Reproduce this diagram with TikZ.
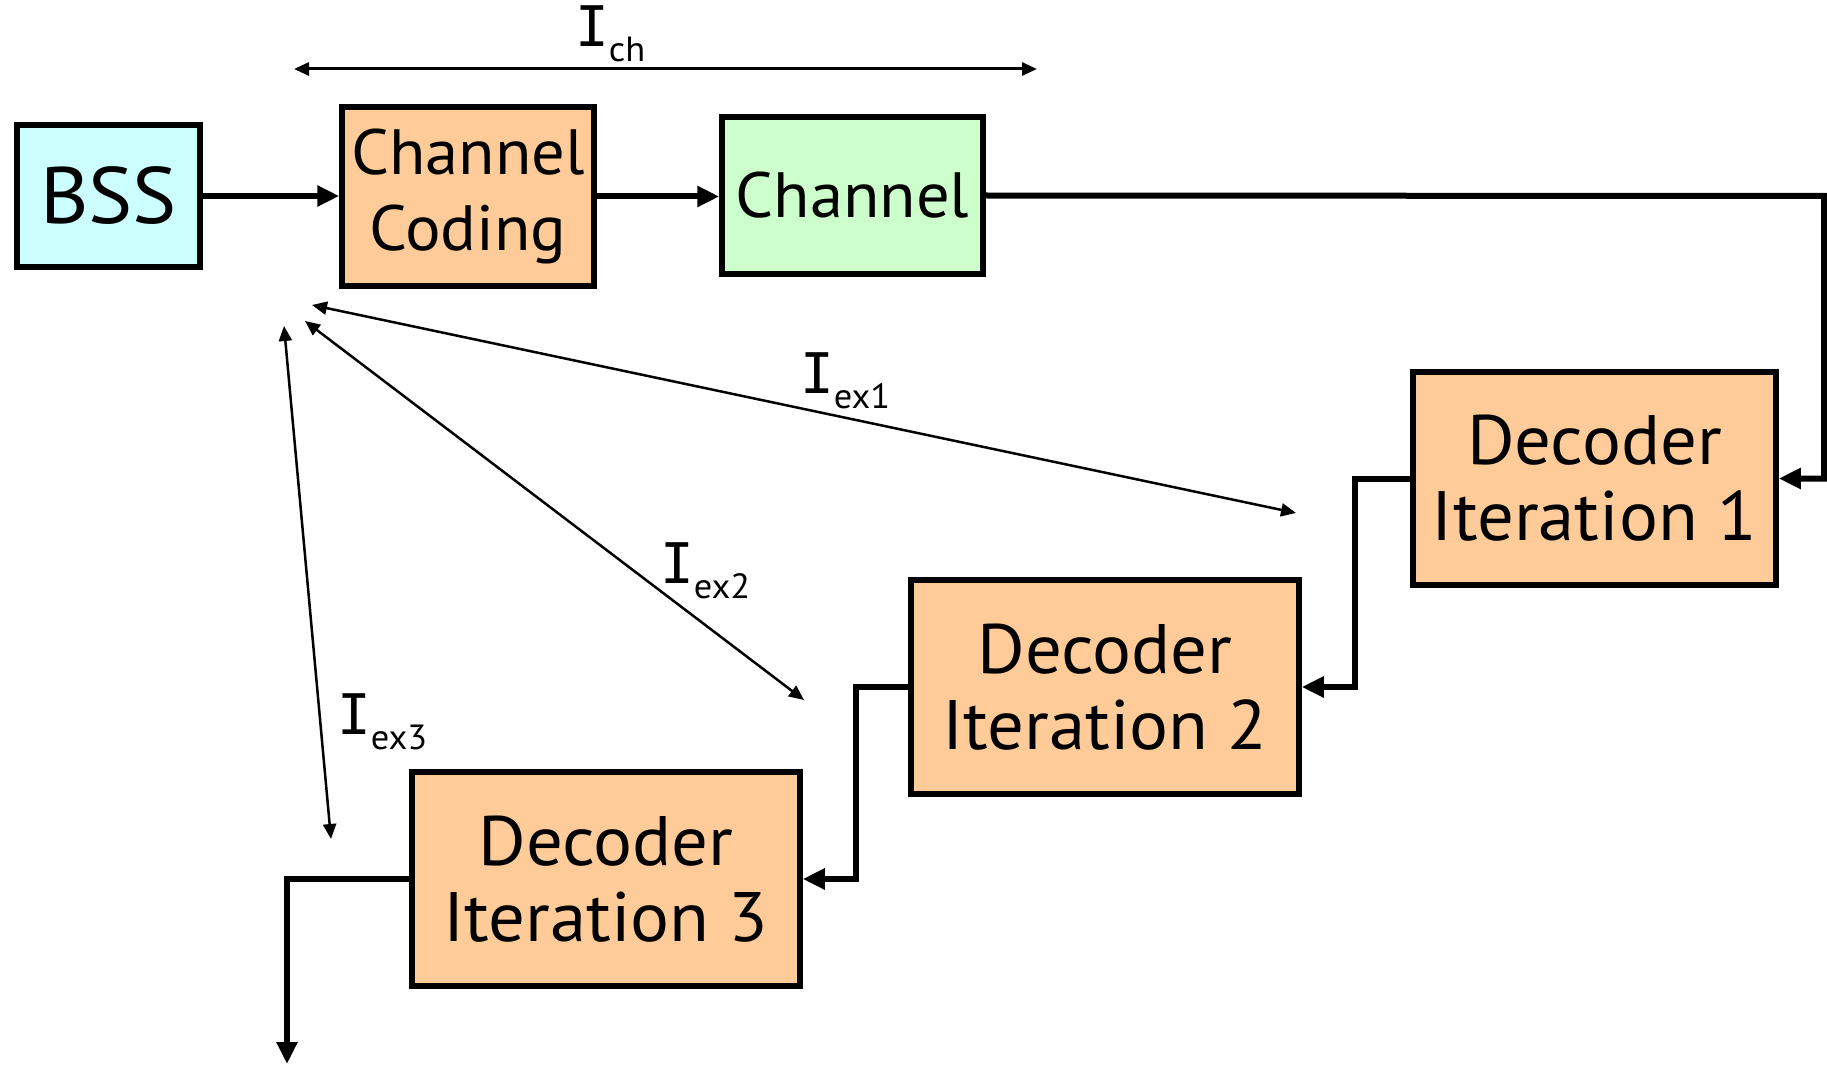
\documentclass[tikz,border=0pt]{standalone}
\usepackage{fontspec}
\setmainfont{PT Sans}[FakeStretch=1.04]
\newfontfamily\capfont{DejaVu Sans Mono}
\usetikzlibrary{arrows.meta}

\definecolor{bssfill}{HTML}{CCFFFF}
\definecolor{codefill}{HTML}{FFCC99}
\definecolor{chanfill}{HTML}{CCFFCC}

\newcommand{\infolabel}[1]{{\capfont I}\raisebox{-15pt}{\fontsize{35}{35}\selectfont #1}}

\tikzset{
  block/.style={draw, line width=5.5pt, inner sep=0pt, align=center,
                font=\fontsize{70}{76}\selectfont},
  flow/.style={line width=6pt, -{Triangle[length=22pt,width=20pt]}},
  measure/.style={line width=2.5pt,
                  {Triangle[length=15pt,width=13pt]}-{Triangle[length=15pt,width=13pt]}},
  infotext/.style={inner sep=0pt, anchor=base west, font=\fontsize{56}{56}\selectfont}
}

\begin{document}
\begin{tikzpicture}[x=1pt, y=-1pt]
  \useasboundingbox (0,0) rectangle (1827,1067);

  % processing blocks
  \node[block, fill=bssfill, minimum width=183, minimum height=142,
        font=\fontsize{80}{80}\selectfont] (bss) at (108.5,196) {BSS};
  \node[block, fill=codefill, minimum width=252, minimum height=179,
        font=\fontsize{64}{76}\selectfont] (cc) at (468,196.5) {Channel\\Coding};
  \node[block, fill=chanfill, minimum width=261, minimum height=157,
        font=\fontsize{64}{76}\selectfont] (ch) at (852.5,195.5) {Channel};
  \node[block, fill=codefill, minimum width=363, minimum height=213] (dec1) at (1594.5,478.5) {Decoder\\Iteration 1};
  \node[block, fill=codefill, minimum width=388, minimum height=214] (dec2) at (1105,687) {Decoder\\Iteration 2};
  \node[block, fill=codefill, minimum width=388, minimum height=214] (dec3) at (606,879) {Decoder\\Iteration 3};

  % routing points
  \coordinate (r1) at (1824,196);
  \coordinate (k1) at (1355,0);
  \coordinate (k2) at (856,0);
  \coordinate (out) at (287,1064);

  % signal path
  \draw[flow] (bss.east) -- (bss.east -| cc.west);
  \draw[flow] (cc.east) -- (cc.east -| ch.west);
  \draw[flow] (ch.east) -- (r1) |- (dec1.east);
  \draw[flow] (dec1.west) -- (dec1.west -| k1) |- (dec2.east);
  \draw[flow] (dec2.west) -- (dec2.west -| k2) |- (dec3.east);
  \draw[flow] (dec3.west) -| (out);

  % mutual information spans
  \coordinate (ich-a) at (294,69);
  \coordinate (ich-b) at (1037,69);
  \draw[measure, line width=3pt] (ich-a) -- (ich-b);

  \coordinate (ex1-a) at (312,305);
  \coordinate (ex1-b) at (1296,513);
  \draw[measure] (ex1-a) -- (ex1-b);

  \coordinate (ex2-a) at (305,321);
  \coordinate (ex2-b) at (804,700);
  \draw[measure] (ex2-a) -- (ex2-b);

  \coordinate (ex3-a) at (284,326);
  \coordinate (ex3-b) at (331,839);
  \draw[measure] (ex3-a) -- (ex3-b);

  % labels
  \node[infotext] (lch) at (575,47) {\infolabel{ch}};
  \node[infotext] (lex1) at (800,393) {\infolabel{ex1}};
  \node[infotext] (lex2) at (660,583) {\infolabel{ex2}};
  \node[infotext] (lex3) at (337,734) {\infolabel{ex3}};
\end{tikzpicture}
\end{document}
